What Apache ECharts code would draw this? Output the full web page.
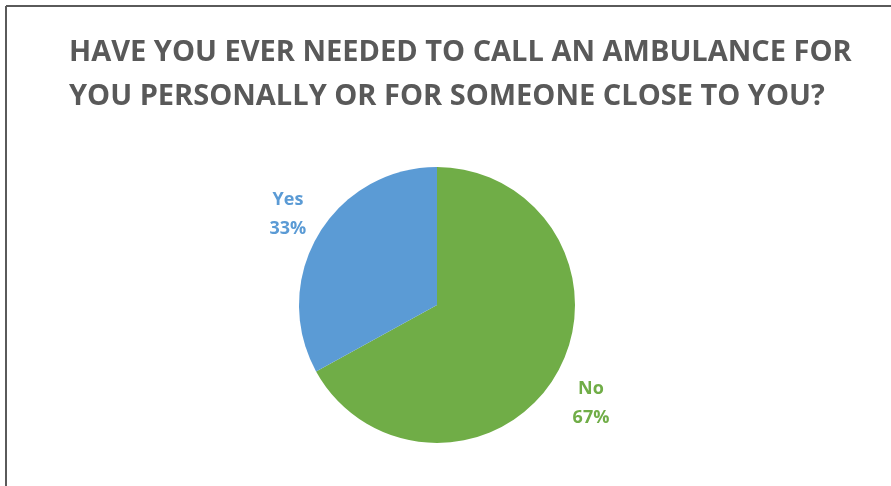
<!DOCTYPE html>
<html>
<head>
<meta charset="utf-8">
<script src="https://cdn.jsdelivr.net/npm/echarts@6/dist/echarts.min.js"></script>
<style>
html,body{margin:0;padding:0;background:#fff;}
#chart{width:891px;height:486px;}
</style>
</head>
<body>
<div id="chart"></div>
<script>
const titleLines = ['HAVE YOU EVER NEEDED TO CALL AN AMBULANCE FOR', 'YOU PERSONALLY OR FOR SOMEONE CLOSE TO YOU?'];
const categories = ['No', 'Yes'];
const values = [67, 33];
const colors = ['#70AD47', '#5B9BD5'];

const chart = echarts.init(document.getElementById('chart'), null, {renderer: 'canvas'});
const data = categories.map((c, i) => ({
  name: c,
  value: values[i],
  itemStyle: {color: colors[i]},
  label: {color: colors[i]},
  labelLine: {show: false, length: i === 0 ? 56 : 41, length2: i === 0 ? -18 : -10}
}));
chart.setOption({
  animation: false,
  backgroundColor: '#ffffff',
  title: {
    text: titleLines.join('\n'),
    left: 64,
    top: 26,
    textStyle: {
      fontFamily: 'Open Sans',
      fontWeight: 'bold',
      fontSize: 29,
      lineHeight: 44,
      color: '#595959'
    }
  },
  graphic: [
    {type: 'line', shape: {x1: 6, y1: 6, x2: 891, y2: 6}, style: {stroke: '#5a5a5a', lineWidth: 2}},
    {type: 'line', shape: {x1: 6, y1: 6, x2: 6, y2: 486}, style: {stroke: '#5a5a5a', lineWidth: 2}}
  ],
  series: [{
    type: 'pie',
    center: [437, 305],
    radius: [0, 138],
    startAngle: 90,
    clockwise: true,
    avoidLabelOverlap: false,
    data: data,
    label: {
      show: true,
      position: 'outside',
      formatter: p => p.name + '\n' + p.value + '%',
      fontFamily: 'Open Sans',
      fontWeight: 'bold',
      fontSize: 18,
      lineHeight: 29
    },
    labelLayout: function () {
      return {align: 'center', verticalAlign: 'middle'};
    },
    emphasis: {disabled: true}
  }]
});
</script>
</body>
</html>
